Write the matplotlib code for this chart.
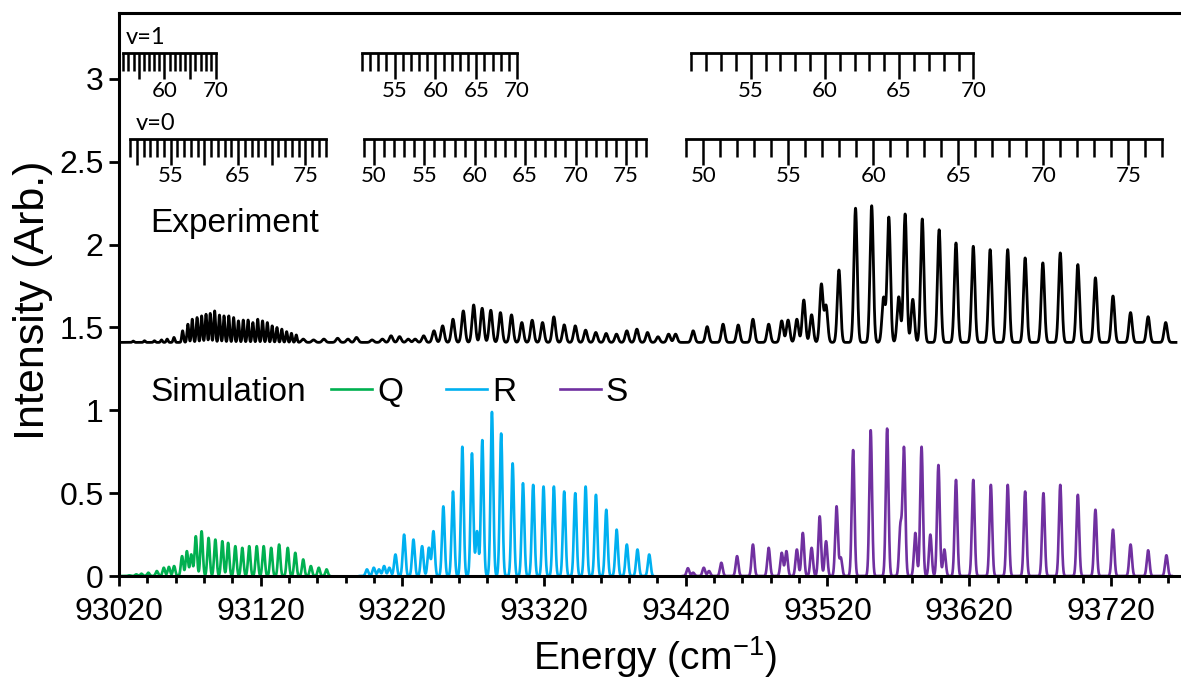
import numpy as np
import matplotlib
matplotlib.use("Agg")
import matplotlib.pyplot as plt
from matplotlib.lines import Line2D
from matplotlib.ticker import MultipleLocator, FuncFormatter

plt.rcParams['font.family'] = ['Liberation Sans', 'DejaVu Sans']

# ---------------- experiment (peak centre cm-1, height above baseline) ----------
exp_baseline = 1.41
exp_range = (93020.5, 93766)
exp_pos = [93030, 93038, 93045, 93050, 93054,
           93058.8, 93064.9, 93068.6, 93071.7, 93075.1, 93078.3, 93081.4, 93084.4,
           93087.5, 93090.9, 93094.1, 93097.5, 93100.9, 93104.3, 93107.7, 93111.1,
           93114.5, 93117.9, 93121.3, 93124.7, 93128.1, 93131.5, 93134.9, 93138.3,
           93141.7, 93145.1,
           93150, 93157.3, 93164.6, 93174.3, 93181.6, 93187.6, 93198.6, 93205.9,
           93212, 93218, 93224.1, 93229,
           93235.0, 93242.3, 93248.4, 93255.7, 93263.0, 93270.3, 93276.3, 93282.4,
           93289.2, 93297.0, 93304.3, 93311.6, 93318.9, 93326.9, 93334.2, 93342.0,
           93349.3, 93356.5, 93363.8, 93371.1, 93378.4, 93385.5,
           93393.0, 93400.4, 93407.9, 93412.8, 93425.2, 93435.1, 93446.3, 93457.0,
           93467.4, 93478.5, 93487.7, 93492.2, 93498.4, 93503.3, 93508.8, 93515.7,
           93519.0, 93528.1, 93539.8, 93551.2, 93559.6, 93563.3, 93570.3, 93574.8,
           93580.2, 93586.9, 93598.8, 93610.7, 93622.9, 93634.8, 93647.2, 93659.5,
           93672.0, 93684.3, 93696.7, 93709.1, 93721.5, 93733.9, 93746.3, 93758.7]
exp_amp = [0.008, 0.01, 0.01, 0.015, 0.02,
           0.03, 0.07, 0.11, 0.14, 0.15, 0.16, 0.17, 0.175,
           0.19, 0.165, 0.16, 0.16, 0.15, 0.13, 0.135, 0.135,
           0.12, 0.14, 0.13, 0.12, 0.10, 0.09, 0.08, 0.065,
           0.055, 0.045,
           0.02, 0.015, 0.02, 0.025, 0.02, 0.03, 0.015, 0.02,
           0.04, 0.035, 0.02, 0.02,
           0.04, 0.07, 0.10, 0.14, 0.19, 0.226, 0.206, 0.194,
           0.18, 0.166, 0.12, 0.134, 0.12, 0.154, 0.106, 0.10,
           0.074, 0.06, 0.054, 0.05, 0.07, 0.08,
           0.06, 0.034, 0.05, 0.05, 0.07, 0.095, 0.11, 0.105,
           0.14, 0.11, 0.13, 0.135, 0.14, 0.256, 0.167, 0.35,
           0.22, 0.437, 0.81, 0.825, 0.27, 0.755, 0.275, 0.775,
           0.26, 0.745, 0.68, 0.60, 0.58, 0.56, 0.56, 0.51,
           0.48, 0.54, 0.47, 0.39, 0.28, 0.18, 0.155, 0.12]

# ---------------- simulation branches ----------------
q_range = (93022, 93169)
q_pos = [93027.3, 93032.2, 93035.8, 93040.7, 93046.7, 93051.6, 93055.2, 93058.9,
         93064.5, 93067.9, 93071.0, 93074.2, 93078.3, 93083.2, 93088.0, 93092.9,
         93097.0, 93102.1, 93107.0, 93111.9, 93117.2, 93122.1, 93127.4, 93133.0,
         93139.1, 93144.4, 93150.0, 93155.4, 93161.0, 93166.5]
q_amp = [0.004, 0.01, 0.014, 0.02, 0.03, 0.05, 0.055, 0.06,
         0.12, 0.15, 0.13, 0.24, 0.27, 0.23, 0.22, 0.21,
         0.20, 0.18, 0.17, 0.18, 0.18, 0.18, 0.17, 0.19,
         0.17, 0.14, 0.10, 0.06, 0.05, 0.04]

r_range = (93190, 93397)
r_pos = [93195.0, 93199.8, 93203.5, 93207.1, 93210.8, 93215.1, 93221.2, 93227.8,
         93233.9, 93238.7, 93241.9, 93248.9, 93255.7, 93262.3, 93269.1, 93272.7,
         93276.4, 93283.2, 93289.7, 93297.8, 93305.1, 93312.3, 93319.6, 93326.9,
         93334.2, 93342.0, 93349.3, 93356.6, 93363.9, 93371.2, 93378.4, 93385.9,
         93394.2]
r_amp = [0.04, 0.05, 0.04, 0.06, 0.05, 0.13, 0.25, 0.22,
         0.18, 0.17, 0.27, 0.42, 0.51, 0.78, 0.74, 0.27,
         0.82, 0.99, 0.86, 0.68, 0.56, 0.55, 0.54, 0.54,
         0.51, 0.50, 0.54, 0.49, 0.40, 0.28, 0.19, 0.16,
         0.13]

s_range = (93418, 93763)
s_pos = [93421.5, 93425.2, 93432.7, 93436.4, 93445.1, 93456.2, 93467.4, 93478.5,
         93487.7, 93491.0, 93498.4, 93502.6, 93508.8, 93514.5, 93519.0, 93526.4,
         93529.4, 93538.1, 93550.5, 93562.1, 93571.5, 93574.0, 93582.0, 93586.4,
         93592.6, 93598.3, 93602.5, 93610.7, 93622.9, 93635.3, 93647.2, 93659.5,
         93672.4, 93684.3, 93696.7, 93709.1, 93721.5, 93733.9, 93746.3, 93759.2]
s_amp = [0.047, 0.02, 0.05, 0.03, 0.08, 0.12, 0.19, 0.17,
         0.14, 0.15, 0.16, 0.26, 0.17, 0.36, 0.21, 0.42,
         0.11, 0.76, 0.88, 0.89, 0.30, 0.77, 0.26, 0.78,
         0.25, 0.67, 0.16, 0.58, 0.58, 0.55, 0.55, 0.51,
         0.50, 0.55, 0.49, 0.40, 0.28, 0.19, 0.155, 0.125]

# ---------------- rotational assignment combs ----------------
# (first J, last J), energy of first and last J line, labelled J values
v1_J = [(52, 70), (51, 70), (51, 70)]
v1_E = [(93023.0, 93088.5), (93191.5, 93300.9), (93423.9, 93623.0)]
v1_labels = [[60, 70], [55, 60, 65, 70], [55, 60, 65, 70]]
v0_J = [(49, 78), (49, 77), (49, 77)]
v0_E = [(93027.8, 93165.9), (93192.8, 93392.0), (93420.5, 93756.4)]
v0_labels = [[55, 65, 75], [50, 55, 60, 65, 70, 75], [50, 55, 60, 65, 70, 75]]
comb_level = {'v=1': 3.158, 'v=0': 2.64}

q_color, r_color, s_color = '#00B050', '#00B0F0', '#7030A0'


def spectrum(x, pos, amp, width):
    x = np.asarray(x)[:, None]
    width = np.asarray(width)
    return (np.asarray(amp) * np.exp(-0.5 * ((x - np.asarray(pos)) / width) ** 2)).sum(axis=1)


fig = plt.figure(figsize=(11.81, 6.81), dpi=100)
ax = fig.add_axes([119 / 1181, 1 - 576 / 681, 1 - 119 / 1181, (576 - 12.7) / 681])

# experimental lines are narrower in the tightly packed Q region
exp_width = np.where(np.asarray(exp_pos) < 93150, 0.6, 1.15)
xe = np.arange(exp_range[0], exp_range[1], 0.05)
ax.plot(xe, exp_baseline + spectrum(xe, exp_pos, exp_amp, exp_width), color='black', lw=2.0)

for rng, pos, amp, col, w in [(q_range, q_pos, q_amp, q_color, 0.85),
                              (r_range, r_pos, r_amp, r_color, 0.95),
                              (s_range, s_pos, s_amp, s_color, 0.95)]:
    xs = np.arange(rng[0], rng[1], 0.05)
    ax.plot(xs, spectrum(xs, pos, amp, w), color=col, lw=1.9)

ax.set_xlim(93020, 93769.5)
ax.set_ylim(0, 3.40)
ax.xaxis.set_major_locator(MultipleLocator(100, offset=20))
ax.xaxis.set_minor_locator(MultipleLocator(20))
ax.xaxis.set_major_formatter(FuncFormatter(lambda v, p: f'{v:.0f}'))
ax.yaxis.set_major_locator(MultipleLocator(0.5))
ax.yaxis.set_major_formatter(FuncFormatter(lambda v, p: f'{v:g}'))
ax.tick_params(which='major', direction='out', length=7, width=2, labelsize=23, pad=8)
ax.tick_params(which='minor', direction='out', length=5, width=2)
ax.tick_params(axis='y', pad=4)
ax.spines['right'].set_visible(False)
for s in ['left', 'bottom', 'top']:
    ax.spines[s].set_linewidth(2.2)


def comb(J, E, y, labels):
    sub = ax.inset_axes([E[0], y, E[1] - E[0], 0.001], transform=ax.transData)
    sub.set_xlim(J[0], J[1])
    sub.patch.set_visible(False)
    for s in ['top', 'left', 'right']:
        sub.spines[s].set_visible(False)
    sub.spines['bottom'].set_linewidth(2)
    sub.yaxis.set_visible(False)
    sub.xaxis.set_major_locator(MultipleLocator(5))
    sub.xaxis.set_minor_locator(MultipleLocator(1))
    sub.xaxis.set_major_formatter(
        FuncFormatter(lambda v, p: f'{v:.0f}' if int(round(v)) in labels else ''))
    sub.tick_params(which='major', length=19, width=1.8, pad=1, labelsize=16)
    sub.tick_params(which='minor', length=13, width=1.8)
    for t in sub.get_xticklabels():
        t.set_family(['Lato', 'DejaVu Sans'])


for J, E, lab in zip(v1_J, v1_E, v1_labels):
    comb(J, E, comb_level['v=1'], lab)
for J, E, lab in zip(v0_J, v0_E, v0_labels):
    comb(J, E, comb_level['v=0'], lab)

ax.text(93024.5, 3.25, 'v=1', fontsize=17, family=['Lato', 'DejaVu Sans'], va='center')
ax.text(93031.5, 2.73, 'v=0', fontsize=17, family=['Lato', 'DejaVu Sans'], va='center')

ax.text(93042, 2.13, 'Experiment', fontsize=24, va='center')
ax.text(93042, 1.11, 'Simulation', fontsize=24, va='center')
handles = [Line2D([], [], color=c, lw=1.9) for c in (q_color, r_color, s_color)]
ax.legend(handles, ['Q', 'R', 'S'], ncol=3, frameon=False, fontsize=24,
          loc='center left', bbox_to_anchor=(0.1996, 0.3266), borderaxespad=0,
          borderpad=0, handlelength=1.23, handletextpad=0.15, columnspacing=1.3)

fig.text(33 / 1181, 1 - 300 / 681, 'Intensity (Arb.)', rotation=90, fontsize=31,
         ha='center', va='center')
fig.text(655 / 1181, 1 - 657 / 681, r'Energy (cm$^{\mathregular{-1}}$)', fontsize=28,
         ha='center', va='center')

fig.savefig('out.png', dpi=100)
